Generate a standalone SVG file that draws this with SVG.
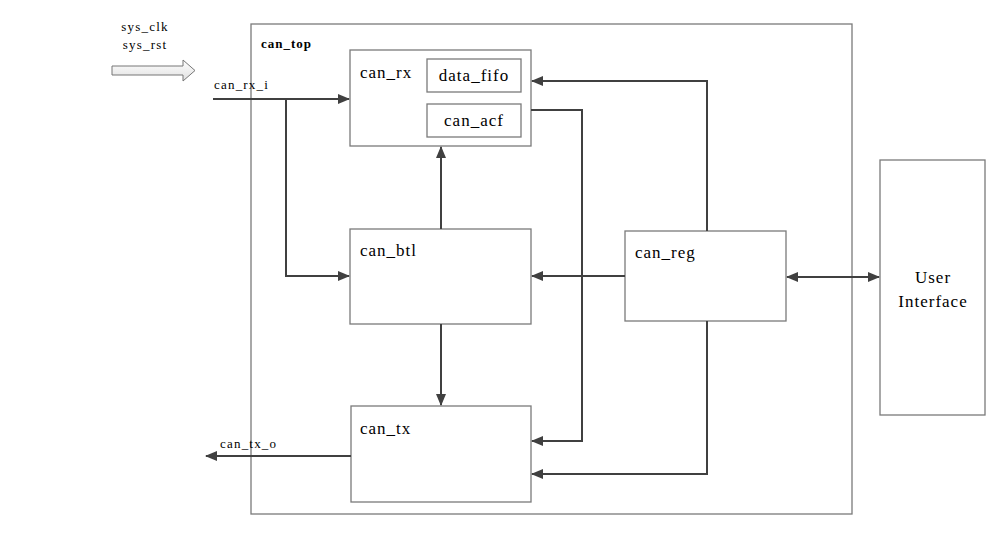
<svg xmlns="http://www.w3.org/2000/svg" width="1003" height="545" viewBox="0 0 1003 545">
<defs>
<marker id="ah" markerWidth="12" markerHeight="10" refX="11" refY="5" orient="auto-start-reverse" markerUnits="userSpaceOnUse">
<path d="M0,0 L12,5 L0,10 Z" fill="#404040"/>
</marker>
<linearGradient id="hg" x1="0" y1="0" x2="0" y2="1">
<stop offset="0" stop-color="#ffffff"/>
<stop offset="1" stop-color="#e0e0e0"/>
</linearGradient>
</defs>
<style>
.box{fill:#fff;stroke:#7a7a7a;stroke-width:1.3}
.t{font-family:'Liberation Serif','DejaVu Serif',serif;fill:#000}
.b{font-size:17px;letter-spacing:1px}
.s{font-size:13px;letter-spacing:1.2px}
.w{stroke:#404040;stroke-width:2;fill:none}
</style>
<rect width="1003" height="545" fill="#fff"/>
<g id="sys">
<text class="t s" x="145" y="31" text-anchor="middle">sys_clk</text>
<text class="t s" x="145" y="49" text-anchor="middle">sys_rst</text>
<path d="M112,66 L183,66 L183,60 L195,70.5 L183,81 L183,75 L112,75 Z" fill="url(#hg)" stroke="#777" stroke-width="1"/>
</g>
<g id="can_top">
<rect class="box" x="251" y="24" width="601" height="490"/>
<text class="t" x="261" y="48" font-size="13" font-weight="bold" letter-spacing="1">can_top</text>
</g>
<g id="can_rx">
<rect class="box" x="350" y="50" width="181" height="96"/>
<text class="t b" x="360" y="78">can_rx</text>
</g>
<g id="data_fifo">
<rect class="box" x="427" y="59" width="94" height="33"/>
<text class="t b" x="474" y="81" text-anchor="middle">data_fifo</text>
</g>
<g id="can_acf">
<rect class="box" x="427" y="104" width="94" height="33"/>
<text class="t b" x="474" y="126" text-anchor="middle">can_acf</text>
</g>
<g id="can_btl">
<rect class="box" x="350" y="229" width="181" height="95"/>
<text class="t b" x="360" y="256">can_btl</text>
</g>
<g id="can_tx">
<rect class="box" x="351" y="406" width="180" height="96"/>
<text class="t b" x="360" y="434">can_tx</text>
</g>
<g id="can_reg">
<rect class="box" x="625" y="231" width="161" height="90"/>
<text class="t b" x="635" y="258">can_reg</text>
</g>
<g id="user_interface">
<rect class="box" x="880" y="160" width="105" height="255"/>
<text class="t b" x="933" y="283" text-anchor="middle">User</text>
<text class="t b" x="933" y="307" text-anchor="middle">Interface</text>
</g>
<g id="connectors">
<text class="t s" x="214" y="89">can_rx_i</text>
<path class="w" d="M213,99 L349,99" marker-end="url(#ah)"/>
<path class="w" d="M286,99 L286,276 L349,276" marker-end="url(#ah)"/>
<path class="w" d="M441,229 L441,147" marker-end="url(#ah)"/>
<path class="w" d="M441,324 L441,405" marker-end="url(#ah)"/>
<path class="w" d="M707,231 L707,81 L532,81" marker-end="url(#ah)"/>
<path class="w" d="M531,110 L582,110 L582,441 L532,441" marker-end="url(#ah)"/>
<path class="w" d="M625,276 L532,276" marker-end="url(#ah)"/>
<path class="w" d="M707,321 L707,474 L532,474" marker-end="url(#ah)"/>
<path class="w" d="M787,277 L879,277" marker-start="url(#ah)" marker-end="url(#ah)"/>
<text class="t s" x="220" y="448">can_tx_o</text>
<path class="w" d="M351,456 L206,456" marker-end="url(#ah)"/>
</g>
</svg>
